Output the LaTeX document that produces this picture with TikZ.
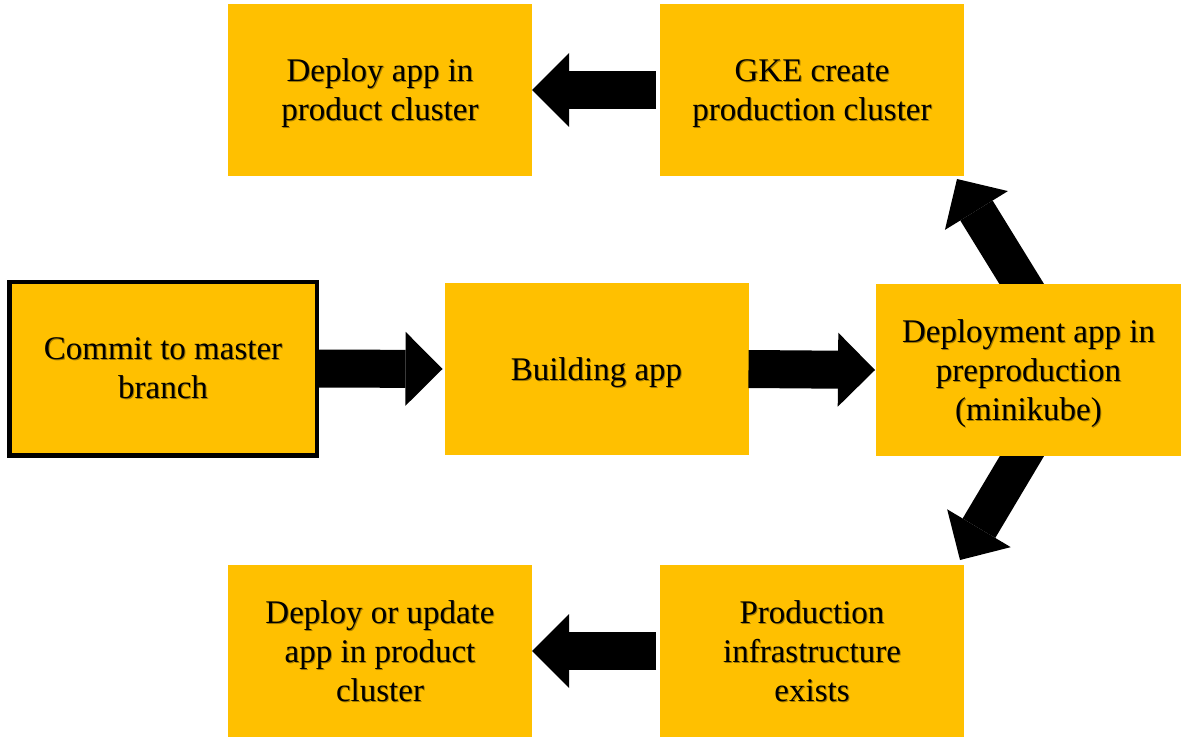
\documentclass[tikz,border=0pt]{standalone}
\usepackage{fontspec}
\setmainfont{Liberation Serif}
\usetikzlibrary{arrows.meta,calc}
\definecolor{boxgold}{HTML}{FFC000}
\definecolor{txtshadow}{HTML}{A47C00}
\newcommand\shtxt[1]{\makebox[0pt][l]{\kern1pt\raisebox{-1pt}{\textcolor{txtshadow}{#1}}}#1}
\pgfdeclarelayer{bg}
\pgfsetlayers{bg,main}
\begin{document}
\begin{tikzpicture}[x=1pt,y=-1pt,
  stepbox/.style={fill=boxgold, minimum width=304pt, minimum height=172pt,
    inner sep=0pt, outer sep=0pt, align=center,
    font=\fontsize{33}{39}\selectfont, text depth=0pt},
  bigarrow/.style={draw=black, line width=38pt,
    -{Triangle[width=74pt,length=37pt,line width=0pt]}}]
\useasboundingbox (0,0) rectangle (1188,746);
\node[stepbox] (dtop) at (380,90) {\shtxt{Deploy app in}\\\shtxt{product cluster}};
\node[stepbox] (gke) at (812,90) {\shtxt{GKE create}\\\shtxt{production cluster}};
\node[stepbox, draw=black, line width=4.5pt, minimum width=307.5pt,
  minimum height=173.5pt] (commit) at (163,368.5) {\shtxt{Commit to master}\\\shtxt{branch}};
\node[stepbox] (build) at (596.5,369) {\shtxt{Building app}};
\node[stepbox, minimum width=305pt] (pre) at (1028.5,370)
  {\shtxt{Deployment app in}\\\shtxt{preproduction}\\\shtxt{(minikube)}};
\node[stepbox] (prod) at (812,651) {\shtxt{Production}\\\shtxt{infrastructure}\\\shtxt{exists}};
\node[stepbox] (dupd) at (380,651) {\shtxt{Deploy or update}\\\shtxt{app in product}\\\shtxt{cluster}};
\draw[bigarrow] ([xshift=2pt]commit.east) -- ([xshift=-2pt]build.west);
\draw[bigarrow] (build.east) -- ([xshift=-1pt]pre.west);
\draw[bigarrow] ([xshift=-4pt]gke.west) -- (dtop.east);
\draw[bigarrow] ([xshift=-4pt]prod.west) -- (dupd.east);
\begin{pgfonlayer}{bg}
\draw[bigarrow] ([yshift=-11pt]pre.north) -- ([xshift=145pt,yshift=-3pt]gke.south);
\draw[bigarrow] ([yshift=11pt]pre.south) -- ([xshift=148pt,yshift=5pt]prod.north);
\end{pgfonlayer}
\end{tikzpicture}
\end{document}
